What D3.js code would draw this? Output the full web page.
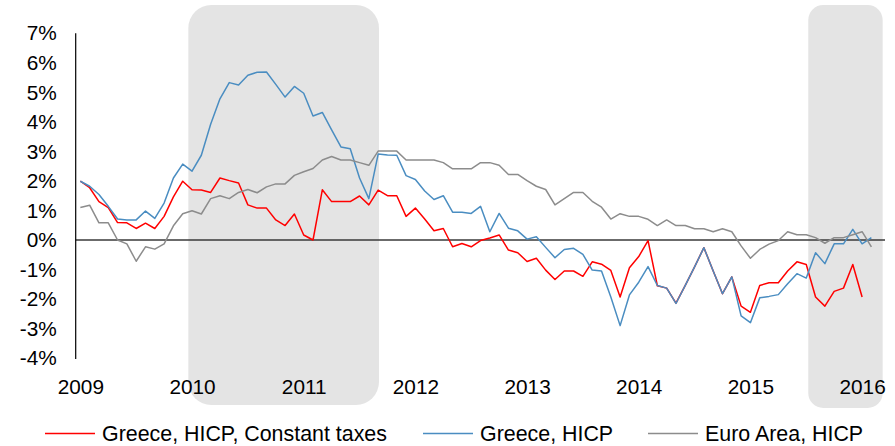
<!DOCTYPE html>
<html>
<head>
<meta charset="utf-8">
<script src="https://cdn.jsdelivr.net/npm/d3@7"></script>
<style>
  body { margin: 0; background: #fff; }
  text { font-family: "Liberation Sans", Arial, sans-serif; fill: #000; }
</style>
</head>
<body>
<div id="chart"></div>
<script>
// Monthly inflation, y/y %, Jan 2009 - Feb 2016
var startYear = 2009;
var yearTicks = [2009, 2010, 2011, 2012, 2013, 2014, 2015, 2016];
var pctTicks = [-4, -3, -2, -1, 0, 1, 2, 3, 4, 5, 6, 7];

var greeceConstTaxes = [
  1.99, 1.77, 1.30, 1.10, 0.59, 0.58, 0.39, 0.57, 0.39, 0.80, 1.46, 1.99,
  1.70, 1.69, 1.61, 2.10, 2.01, 1.93, 1.19, 1.08, 1.08, 0.68, 0.49, 0.88,
  0.17, 0.00, 1.70, 1.30, 1.30, 1.30, 1.49, 1.19, 1.69, 1.50, 1.50, 0.80,
  1.08, 0.71, 0.31, 0.39, -0.23, -0.12, -0.23, -0.02, 0.07, 0.17, -0.34, -0.43,
  -0.73, -0.62, -1.02, -1.34, -1.05, -1.05, -1.23, -0.74, -0.82, -1.03, -1.93, -0.94,
  -0.56, -0.02, -1.55, -1.63, -2.14, -1.54, -0.91, -0.26, -1.05, -1.82, -1.25, -2.24,
  -2.45, -1.54, -1.45, -1.45, -1.05, -0.74, -0.83, -1.93, -2.24, -1.74, -1.63, -0.83,
  -1.93
];

var greeceHicp = [
  1.99, 1.82, 1.54, 1.14, 0.71, 0.68, 0.68, 0.98, 0.73, 1.25, 2.10, 2.57,
  2.33, 2.87, 3.92, 4.78, 5.33, 5.25, 5.58, 5.68, 5.69, 5.27, 4.84, 5.20,
  4.97, 4.20, 4.32, 3.73, 3.15, 3.09, 2.10, 1.40, 2.91, 2.88, 2.87, 2.18,
  2.05, 1.66, 1.37, 1.50, 0.94, 0.94, 0.90, 1.14, 0.28, 0.90, 0.40, 0.31,
  0.03, 0.11, -0.25, -0.60, -0.32, -0.28, -0.49, -1.02, -1.05, -1.93, -2.90, -1.86,
  -1.43, -0.90, -1.54, -1.63, -2.15, -1.54, -0.91, -0.26, -1.05, -1.82, -1.25, -2.57,
  -2.80, -1.96, -1.91, -1.85, -1.48, -1.14, -1.29, -0.43, -0.80, -0.13, -0.13, 0.36,
  -0.13, 0.08
];

var euroAreaHicp = [
  1.10, 1.18, 0.58, 0.58, 0.00, -0.13, -0.72, -0.23, -0.31, -0.13, 0.48, 0.89,
  0.99, 0.88, 1.40, 1.50, 1.40, 1.61, 1.71, 1.60, 1.80, 1.90, 1.90, 2.19,
  2.31, 2.42, 2.71, 2.83, 2.71, 2.71, 2.62, 2.53, 3.01, 3.01, 3.01, 2.71,
  2.71, 2.71, 2.71, 2.62, 2.41, 2.41, 2.41, 2.62, 2.62, 2.53, 2.22, 2.22,
  2.01, 1.82, 1.71, 1.19, 1.40, 1.61, 1.61, 1.31, 1.11, 0.71, 0.89, 0.80,
  0.80, 0.70, 0.49, 0.68, 0.49, 0.49, 0.38, 0.38, 0.28, 0.38, 0.28, -0.20,
  -0.62, -0.32, -0.14, -0.02, 0.28, 0.18, 0.18, 0.08, -0.11, 0.08, 0.08, 0.18,
  0.28, -0.23
];

// shaded periods, in decimal years
var shadeStarts = [2009.967, 2015.518];
var shadeEnds = [2011.674, 2016.184];

var seriesNames = ["Greece, HICP, Constant taxes", "Greece, HICP", "Euro Area, HICP"];
var seriesColors = ["#ff0000", "#4a8dc1", "#8c8c8c"];

var svgWidth = 895;
var svgHeight = 446;

var svg = d3.select("#chart")
  .append("svg")
  .attr("width", svgWidth)
  .attr("height", svgHeight);

// scales
var x = d3.scaleLinear()
  .domain([2009, 2016])
  .range([80.35, 862.1]);

var y = d3.scaleLinear()
  .domain([-4, 7])
  .range([358.1, 33.3]);

var axisX = 75.7;
var plotRight = 885;

// shaded periods
svg.selectAll("rect.shade")
  .data(shadeStarts)
  .enter()
  .append("rect")
  .attr("class", "shade")
  .attr("x", d => x(d))
  .attr("width", (d, i) => x(shadeEnds[i]) - x(d))
  .attr("y", 5)
  .attr("height", (d, i) => i == 0 ? 400 : 403)
  .attr("rx", (d, i) => i == 0 ? 23 : 15)
  .attr("fill", "#e4e4e4");

// zero line
svg.append("line")
  .attr("x1", axisX)
  .attr("x2", plotRight)
  .attr("y1", y(0))
  .attr("y2", y(0))
  .attr("stroke", "#3a3a3a")
  .attr("stroke-width", 1.5);

// lines
var line = d3.line()
  .x((d, i) => x(startYear + i / 12))
  .y(d => y(d));

[greeceConstTaxes, greeceHicp, euroAreaHicp].forEach(function(vals, k) {
  svg.append("path")
    .datum(vals)
    .attr("fill", "none")
    .attr("stroke", seriesColors[k])
    .attr("stroke-width", 1.5)
    .attr("stroke-linejoin", "round")
    .attr("d", line);
});

// axes
var left = d3.axisLeft(y)
  .tickValues(pctTicks)
  .tickFormat(d => d + "%")
  .tickSize(0)
  .tickSizeOuter(0)
  .tickPadding(19);

var gy = svg.append("g")
  .attr("transform", `translate(${axisX}, 0)`)
  .call(left);
gy.select(".domain").attr("stroke", "#000").attr("stroke-width", 1.2)
  .attr("d", `M0,${y(-4) + 1}V${y(7)}`);
gy.selectAll("text")
  .style("font-size", "20.8px")
  .attr("fill", "#000");

var bottom = d3.axisBottom(x)
  .tickValues(yearTicks)
  .tickFormat(d3.format("d"))
  .tickSize(0)
  .tickPadding(21);

var gx = svg.append("g")
  .attr("transform", `translate(0, ${y(-4)})`)
  .call(bottom);
gx.select(".domain").remove();
gx.selectAll("text")
  .style("font-size", "20.8px")
  .attr("fill", "#000");

// legend
var legendX = [45, 423, 648];
var legend = svg.selectAll("g.legend")
  .data(seriesNames)
  .enter()
  .append("g")
  .attr("class", "legend")
  .attr("transform", (d, i) => `translate(${legendX[i]}, 433.5)`);

legend.append("line")
  .attr("x1", 0)
  .attr("x2", 50)
  .attr("stroke", (d, i) => seriesColors[i])
  .attr("stroke-width", 1.5);

legend.append("text")
  .attr("x", 57)
  .attr("dy", "0.35em")
  .style("font-size", "21.4px")
  .text(d => d);
</script>
</body>
</html>
